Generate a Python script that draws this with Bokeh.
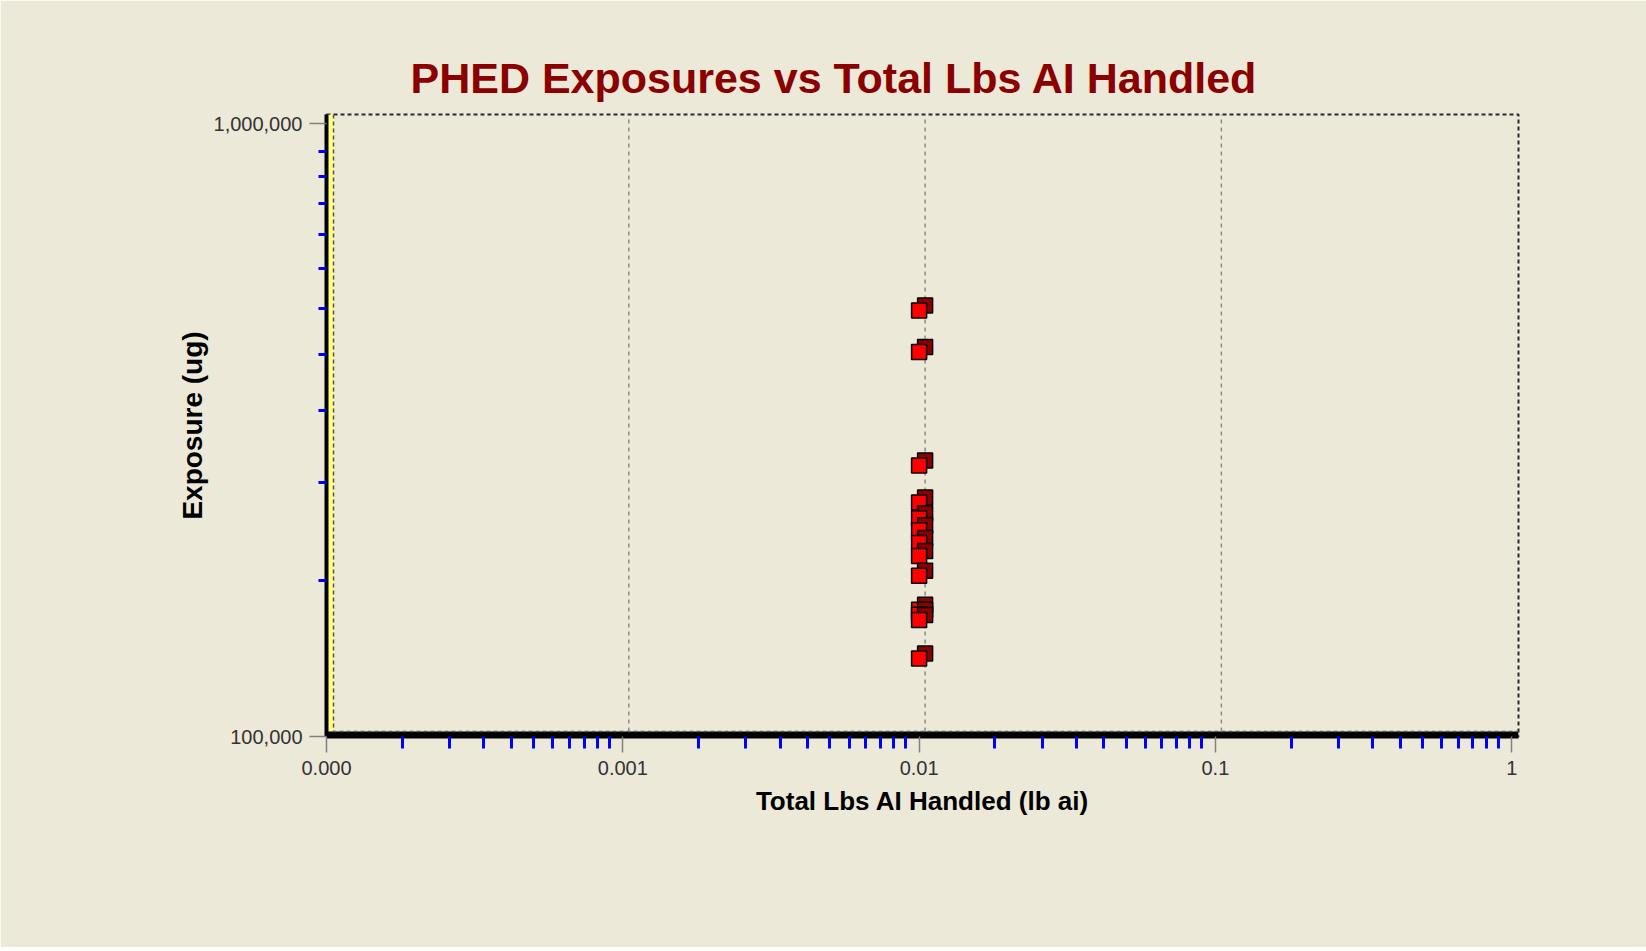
from bokeh.plotting import figure
from bokeh.models import (FixedTicker, BoxAnnotation, Title, Range1d,
                          CustomJSTickFormatter)
from bokeh.embed import file_html
from bokeh.resources import INLINE

# ---------------- data ----------------
TITLE = "PHED Exposures vs Total Lbs AI Handled"
X_LABEL = "Total Lbs AI Handled (lb ai)"
Y_LABEL = "Exposure (ug)"

TOTAL_LBS_AI = [0.01, 0.01, 0.01, 0.01, 0.01, 0.01, 0.01,
                0.01, 0.01, 0.01, 0.01, 0.01, 0.01]
EXPOSURE_UG = [496000, 424000, 277000, 241000, 227000, 217000, 207000,
               197000, 183000, 161000, 158000, 155000, 134000]

X_TICKS = [0.0001, 0.001, 0.01, 0.1, 1.0]
X_TICK_LABELS = ["0.000", "0.001", "0.01", "0.1", "1"]
Y_TICKS = [100000, 1000000]
Y_TICK_LABELS = ["100,000", "1,000,000"]
MINOR_MULTIPLIERS = [1.8, 2.6, 3.4, 4.2, 5.0, 5.8, 6.6, 7.4, 8.2, 9.0]

# ---------------- layout / style ----------------
BG = "#ECE9D8"
FONT = "Liberation Sans"
FRAME_W, FRAME_H = 1192, 622
X_DEC_PX, Y_DEC_PX = 296.3, 612.7
X_MIN, Y_MIN = X_TICKS[0], Y_TICKS[0]
X_MAX = 10 ** (-4 + FRAME_W / X_DEC_PX)
Y_MAX = 10 ** (5 + FRAME_H / Y_DEC_PX)


def xshift(px):
    return 10 ** (px / X_DEC_PX)


def yshift(px):
    return 10 ** (px / Y_DEC_PX)


p = figure(x_axis_type="log", y_axis_type="log",
           x_range=Range1d(X_MIN, X_MAX), y_range=Range1d(Y_MIN, Y_MAX),
           frame_width=FRAME_W, frame_height=FRAME_H,
           min_border_left=326, min_border_right=128,
           min_border_top=114, min_border_bottom=211,
           output_backend="svg", toolbar_location=None,
           background_fill_color=BG, border_fill_color=BG)

p.title = Title(text=TITLE, align="left", offset=84, standoff=26,
                text_font=FONT, text_font_size="43px",
                text_font_style="bold", text_color="#8B0000")

p.grid.grid_line_color = None
p.outline_line_color = "#2A2A2A"
p.outline_line_dash = "4 3"
p.outline_line_width = 2

fmt_code = """
for (let i = 0; i < ticks_v.length; i++) {
  if (Math.abs(Math.log10(tick) - Math.log10(ticks_v[i])) < 1e-6) return labels[i];
}
return "";
"""

xa = p.xaxis[0]
xa.ticker = FixedTicker(ticks=X_TICKS,
                        minor_ticks=[t * m for t in X_TICKS[:-1] for m in MINOR_MULTIPLIERS])
xa.formatter = CustomJSTickFormatter(args=dict(ticks_v=X_TICKS, labels=X_TICK_LABELS), code=fmt_code)
xa.axis_label = X_LABEL

ya = p.yaxis[0]
ya.ticker = FixedTicker(ticks=Y_TICKS,
                        minor_ticks=[Y_TICKS[0] * m for m in MINOR_MULTIPLIERS])
ya.formatter = CustomJSTickFormatter(args=dict(ticks_v=Y_TICKS, labels=Y_TICK_LABELS), code=fmt_code)
ya.axis_label = Y_LABEL

for ax, tick_out, minor_out, title_size, lstand, tstand in (
        (xa, 16, 12, "26px", 8, 8), (ya, 17, 8, "28px", 7, 3)):
    ax.axis_line_color = "black"
    ax.axis_line_width = 4
    ax.major_tick_line_color = "#808080"
    ax.major_tick_line_width = 1.5
    ax.major_tick_out = tick_out
    ax.major_tick_in = 0
    ax.minor_tick_line_color = "#0000FF"
    ax.minor_tick_line_width = 3
    ax.minor_tick_out = minor_out
    ax.minor_tick_in = 0
    ax.major_label_text_font = FONT
    ax.major_label_text_font_size = "20px"
    ax.major_label_text_color = "#333333"
    ax.major_label_standoff = lstand
    ax.axis_label_text_font = FONT
    ax.axis_label_text_font_size = title_size
    ax.axis_label_text_font_style = "bold"
    ax.axis_label_text_color = "black"
    ax.axis_label_standoff = tstand

# 3D walls: yellow side wall, black floor
p.add_layout(BoxAnnotation(left=X_MIN, right=X_MIN * xshift(7), bottom=Y_MIN * yshift(5),
                           fill_color="#FFFF80", fill_alpha=1, line_color=None, level="underlay"))
p.add_layout(BoxAnnotation(bottom=Y_MIN, top=Y_MIN * yshift(5),
                           fill_color="black", fill_alpha=1, line_color=None, level="underlay"))

# back wall edges (left & bottom)
p.line(x=[X_MIN * xshift(7), X_MIN * xshift(7), X_MAX],
       y=[Y_MAX, Y_MIN * yshift(5), Y_MIN * yshift(5)],
       line_color="#555555", line_width=1.5, line_dash="4 3")

# vertical grid lines on the back wall
grid_x = [t * xshift(6) for t in X_TICKS[1:-1]]
p.segment(x0=grid_x, y0=[Y_MIN * yshift(5)] * len(grid_x),
          x1=grid_x, y1=[Y_MAX] * len(grid_x),
          line_color="#8A8A8A", line_width=1.5, line_dash="4 4")

# cubes, drawn from top value to bottom value
order = sorted(range(len(EXPOSURE_UG)), key=lambda i: -EXPOSURE_UG[i])
for i in order:
    xv, yv = TOTAL_LBS_AI[i], EXPOSURE_UG[i]
    p.scatter(x=[xv * xshift(6)], y=[yv * yshift(5)], marker="square", size=15,
              fill_color="#8B0000", line_color="black", line_width=1.5)
    p.scatter(x=[xv], y=[yv], marker="square", size=15,
              fill_color="#FF0000", line_color="black", line_width=1.5)

open("out.html", "w").write(file_html(p, INLINE))
